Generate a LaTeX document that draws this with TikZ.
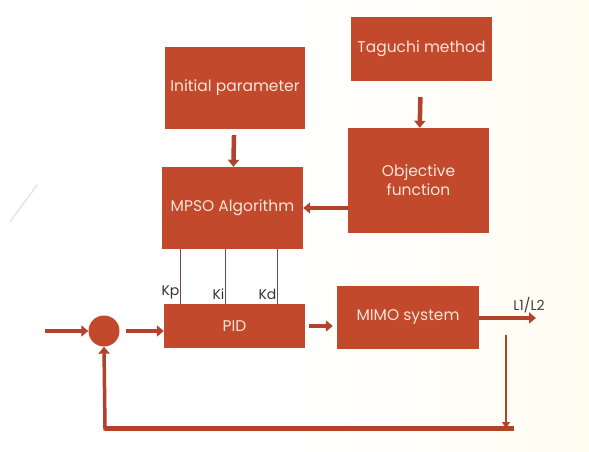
\documentclass[tikz,border=0pt]{standalone}
\usepackage{fontspec}
\setmainfont{Poppins}
\usetikzlibrary{arrows.meta}
\definecolor{rust}{RGB}{194,73,44}
\definecolor{rustdark}{RGB}{178,66,44}
\definecolor{paletext}{RGB}{252,228,216}
\definecolor{gainline}{RGB}{118,74,66}
\definecolor{cream}{RGB}{255,252,240}

\begin{document}
\begin{tikzpicture}[x=1pt, y=-1pt,
  block/.style={fill=rust, text=paletext, align=center, inner sep=2pt,
    font=\fontsize{15.5}{19}\selectfont},
  flow/.style={draw=rustdark, line width=4.5pt, -{Triangle[length=7pt, width=11pt]}},
  thinflow/.style={draw=rustdark, line width=2.5pt, -{Triangle[length=6pt, width=8pt]}},
  gain/.style={draw=gainline, line width=0.9pt},
  glabel/.style={text=black!80, font=\fontsize{14}{16}\selectfont, inner sep=1pt}]
  \useasboundingbox (0,0) rectangle (589,452);
  \shade[left color=white, right color=cream, middle color=white] (0,0) rectangle (589,452);
  \draw[gray!20, line width=1.5pt] (37,185) -- (10,222);

  % optimisation loop
  \node[block, minimum width=141, minimum height=64] (taguchi) at (421.5,49) {Taguchi method};
  \node[block, minimum width=140, minimum height=82] (init) at (235,88) {Initial parameter};
  \node[block, minimum width=141, minimum height=105] (obj) at (418.5,180.5) {Objective\\function};
  \node[block, minimum width=141, minimum height=82] (mpso) at (232.5,208) {MPSO Algorithm};

  \draw[flow, shorten <=6pt] (init) -- (mpso);
  \draw[flow, shorten <=16pt] (taguchi) -- (obj);
  \draw[flow] (obj.west |- mpso.east) -- (mpso.east);

  % control loop
  \node[circle, fill=rust, minimum size=31, inner sep=0pt] (sum) at (104,331) {};
  \node[block, minimum width=141, minimum height=44] (pid) at (234.5,326) {PID};
  \node[block, minimum width=142, minimum height=63] (mimo) at (408,317.5) {MIMO system};

  \coordinate (in) at (45,331);
  \coordinate (out) at (536,318);
  \draw[flow] (in) -- (sum.west);
  \draw[flow, shorten <=6pt] (sum.east) -- (sum.east -| pid.west);
  \draw[flow, shorten <=4pt, shorten >=4pt] (pid.east) -- (pid.east -| mimo.west);
  \draw[flow] (mimo.east |- out) -- (out) node[text=black!75, font=\fontsize{14}{16}\selectfont,
    above, xshift=-7pt, yshift=2pt, inner sep=1pt] {L1/L2};

  % gains from MPSO to PID
  \foreach \dx/\lbl in {19/Kp, 64/Ki, 116/Kd}
    \draw[gain] ([xshift=\dx pt]mpso.south west) coordinate (g) -- (g |- pid.north)
      node[glabel, pos=1, above left, yshift=3pt] {\lbl};

  % feedback path
  \coordinate (tap) at (506,335);
  \coordinate (fbr) at (514,428);
  \coordinate (fbl) at (105,428);
  \draw[thinflow] (tap) -- (tap |- fbr);
  \draw[draw=rustdark, line width=5pt] (fbr) -- (fbl);
  \draw[flow, line width=3.5pt, shorten <=-2.5pt] (fbl) -- (sum.south);
\end{tikzpicture}
\end{document}
